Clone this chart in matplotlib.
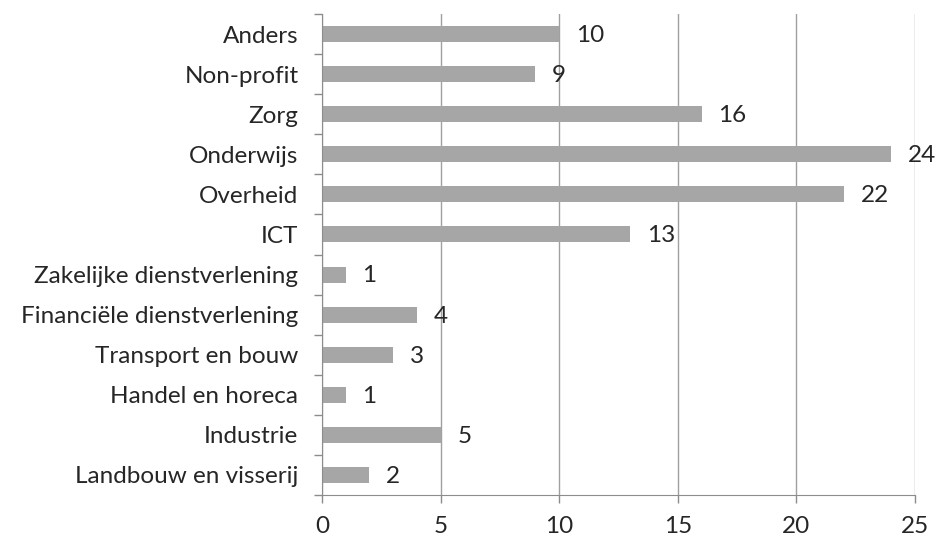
import matplotlib
matplotlib.use("Agg")
import matplotlib.pyplot as plt
import numpy as np

# categories bottom to top
sectors = [
    "Landbouw en visserij", "Industrie", "Handel en horeca", "Transport en bouw",
    "Financiële dienstverlening", "Zakelijke dienstverlening", "ICT", "Overheid",
    "Onderwijs", "Zorg", "Non-profit", "Anders",
]
counts = [2, 5, 1, 3, 4, 1, 13, 22, 24, 16, 9, 10]
xticks = [0, 5, 10, 15, 20, 25]

plt.rcParams['font.family'] = ['Lato', 'DejaVu Sans']
fs = 17.5

fig = plt.figure(figsize=(9.36, 5.44), dpi=100)
ax = fig.add_axes([322 / 936, 1 - 495 / 544, (915 - 322) / 936, (495 - 14) / 544])

y = np.arange(len(sectors))
ax.barh(y, counts, height=0.4, color="#A6A6A6", zorder=2)

for yi, v in zip(y, counts):
    ax.annotate(str(v), (v, yi), xytext=(12, -1), textcoords="offset points",
                va="center", ha="left", fontsize=fs, color="#262626")

ax.set_xlim(0, 25)
ax.set_ylim(-0.5, len(sectors) - 0.5)
ax.set_xticks(xticks)
ax.set_xticklabels([str(t) for t in xticks], fontsize=fs, color="#262626")
ax.set_yticks(y)
ax.set_yticklabels(sectors, fontsize=fs, color="#262626")
ax.set_yticks(np.arange(-0.5, len(sectors), 1.0), minor=True)
ax.tick_params(axis="y", which="major", length=0, pad=17)
ax.tick_params(axis="y", which="minor", length=6, color="#8C8C8C", width=1)
ax.tick_params(axis="x", length=6, color="#8C8C8C", width=1, pad=9)

ax.grid(axis="x", color="#A0A0A0", linewidth=1, zorder=0)
for s in ["top", "right"]:
    ax.spines[s].set_visible(False)
ax.spines["left"].set_color("#8C8C8C")
ax.spines["bottom"].set_color("#8C8C8C")

fig.savefig("out.png", dpi=100)
